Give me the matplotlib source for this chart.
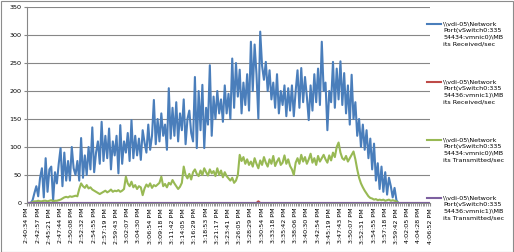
import numpy as np
import matplotlib.pyplot as plt
from matplotlib.lines import Line2D
from matplotlib.patches import Rectangle

# ---------------------- Data ---------------------- #

# category axis labels (one label every 6 samples)
time_labels = ['2:40:34 PM', '2:42:57 PM', '2:45:21 PM', '2:47:44 PM', '2:50:08 PM',
               '2:52:32 PM', '2:54:55 PM', '2:57:19 PM', '2:59:43 PM', '3:02:07 PM',
               '3:04:30 PM', '3:06:54 PM', '3:09:18 PM', '3:11:42 PM', '3:14:05 PM',
               '3:16:29 PM', '3:18:53 PM', '3:21:17 PM', '3:23:41 PM', '3:26:05 PM',
               '3:28:29 PM', '3:30:54 PM', '3:33:18 PM', '3:35:42 PM', '3:38:06 PM',
               '3:40:30 PM', '3:42:54 PM', '3:45:19 PM', '3:47:43 PM', '3:50:07 PM',
               '3:52:31 PM', '3:54:55 PM', '3:57:18 PM', '3:59:42 PM', '4:02:05 PM',
               '4:04:28 PM', '4:06:52 PM']
label_step = 6

series_names = [
    '\\\\vdi-05\\Network\nPort(vSwitch0:335\n54434:vmnic0)\\MB\nits Received/sec',
    '\\\\vdi-05\\Network\nPort(vSwitch0:335\n54436:vmnic1)\\MB\nits Received/sec',
    '\\\\vdi-05\\Network\nPort(vSwitch0:335\n54434:vmnic0)\\MB\nits Transmitted/sec',
    '\\\\vdi-05\\Network\nPort(vSwitch0:335\n54436:vmnic1)\\MB\nits Transmitted/sec',
]
series_colors = ['#4A7EBB', '#BE4B48', '#98B954', '#7D60A0']

# vmnic0 MBits received/sec
rx_nic0 = [0, 0, 0, 5, 18, 30, 12, 45, 62, 10,
           80, 20, 60, 65, 5, 55, 35, 70, 98, 30,
           90, 40, 75, 40, 100, 62, 50, 75, 40, 116,
           45, 85, 50, 100, 60, 135, 55, 90, 110, 70,
           145, 75, 120, 80, 133, 60, 110, 85, 120, 53,
           139, 70, 110, 90, 125, 75, 148, 80, 120, 85,
           115, 77, 130, 108, 90, 140, 95, 120, 184, 105,
           150, 110, 160, 120, 140, 95, 205, 115, 170, 120,
           180, 110, 160, 130, 185, 105, 150, 165, 125, 110,
           225, 98, 200, 130, 211, 98, 170, 140, 246, 120,
           190, 150, 200, 160, 185, 145, 210, 160, 195, 150,
           258, 170, 250, 190, 238, 160, 215, 175, 230, 165,
           288, 200, 283, 230, 151, 306, 245, 220, 252, 200,
           237, 185, 215, 170, 230, 160, 200, 175, 210, 155,
           205, 165, 210, 155, 200, 237, 170, 241, 180, 225,
           190, 148, 210, 165, 230, 180, 240, 175, 288, 200,
           215, 130, 200, 180, 252, 170, 240, 185, 253, 175,
           232, 160, 210, 140, 229, 150, 180, 120, 150, 100,
           140, 95, 130, 80, 115, 60, 106, 40, 71, 25,
           65, 20, 55, 15, 45, 30, 10, 27, 5, 0]

# vmnic1 MBits received/sec (flat, one tiny blip)
rx_nic1 = [0, 0, 0, 0, 0, 0, 0, 0, 0, 0, 0, 0, 0, 0, 0, 0, 0, 0, 0, 0,
           0, 0, 0, 0, 0, 0, 0, 0, 0, 0, 0, 0, 0, 0, 0, 0, 0, 0, 0, 0,
           0, 0, 0, 0, 0, 0, 0, 0, 0, 0, 0, 0, 0, 0, 0, 0, 0, 0, 0, 0,
           0, 0, 0, 0, 0, 0, 0, 0, 0, 0, 0, 0, 0, 0, 0, 0, 0, 0, 0, 0,
           0, 0, 0, 0, 0, 0, 0, 0, 0, 0, 0, 0, 0, 0, 0, 0, 0, 0, 0, 0,
           0, 0, 0, 0, 0, 0, 0, 0, 0, 0, 0, 0, 0, 0, 0, 0, 0, 0, 0, 0,
           0, 0, 0, 0, 3, 0, 0, 0, 0, 0, 0, 0, 0, 0, 0, 0, 0, 0, 0, 0,
           0, 0, 0, 0, 0, 0, 0, 0, 0, 0, 0, 0, 0, 0, 0, 0, 0, 0, 0, 0,
           0, 0, 0, 0, 0, 0, 0, 0, 0, 0, 0, 0, 0, 0, 0, 0, 0, 0, 0, 0,
           0, 0, 0, 0, 0, 0, 0, 0, 0, 0, 0, 0, 0, 0, 0, 0, 0, 0, 0, 0,
           0, 0, 0, 0, 0, 0, 0, 0, 0, 0, 0, 0, 0, 0, 0, 0, 0]

# vmnic0 MBits transmitted/sec
tx_nic0 = [0, 0, 0, 2, 3, 3, 4, 3, 3, 4,
           4, 3, 4, 5, 3, 4, 4, 5, 6, 8,
           10, 11, 10, 12, 11, 12, 13, 12, 25, 35,
           30, 27, 32, 26, 28, 24, 22, 20, 18, 16,
           18, 20, 22, 19, 21, 24, 20, 22, 21, 23,
           20, 22, 25, 47, 35, 30, 38, 28, 32, 25,
           30, 28, 14, 26, 33, 29, 35, 27, 32, 30,
           33, 36, 47, 30, 34, 28, 36, 33, 41, 35,
           30, 25, 29, 36, 65, 50, 44, 52, 42, 55,
           60, 52, 48, 58, 50, 62, 55, 49, 60, 53,
           57, 48, 62, 50, 58, 46, 55, 48, 44, 40,
           45, 36, 40, 50, 86, 75, 82, 70, 78, 68,
           74, 65, 80, 70, 62, 76, 68, 82, 72, 65,
           78, 70, 84, 66, 74, 80, 68, 72, 85, 70,
           78, 66, 60, 50, 72, 80, 70, 86, 74, 82,
           70, 78, 88, 72, 80, 68, 84, 74, 80, 86,
           78, 72, 85, 76, 90, 82, 100, 108, 90, 80,
           77, 84, 74, 80, 86, 92, 78, 60, 45, 35,
           28, 22, 17, 12, 9, 8, 6, 7, 5, 6,
           5, 6, 4, 5, 6, 4, 5, 4, 3, 0]

# vmnic1 MBits transmitted/sec (flat)
tx_nic1 = [0, 0, 0, 0, 0, 0, 0, 0, 0, 0, 0, 0, 0, 0, 0, 0, 0, 0, 0, 0,
           0, 0, 0, 0, 0, 0, 0, 0, 0, 0, 0, 0, 0, 0, 0, 0, 0, 0, 0, 0,
           0, 0, 0, 0, 0, 0, 0, 0, 0, 0, 0, 0, 0, 0, 0, 0, 0, 0, 0, 0,
           0, 0, 0, 0, 0, 0, 0, 0, 0, 0, 0, 0, 0, 0, 0, 0, 0, 0, 0, 0,
           0, 0, 0, 0, 0, 0, 0, 0, 0, 0, 0, 0, 0, 0, 0, 0, 0, 0, 0, 0,
           0, 0, 0, 0, 0, 0, 0, 0, 0, 0, 0, 0, 0, 0, 0, 0, 0, 0, 0, 0,
           0, 0, 0, 0, 0, 0, 0, 0, 0, 0, 0, 0, 0, 0, 0, 0, 0, 0, 0, 0,
           0, 0, 0, 0, 0, 0, 0, 0, 0, 0, 0, 0, 0, 0, 0, 0, 0, 0, 0, 0,
           0, 0, 0, 0, 0, 0, 0, 0, 0, 0, 0, 0, 0, 0, 0, 0, 0, 0, 0, 0,
           0, 0, 0, 0, 0, 0, 0, 0, 0, 0, 0, 0, 0, 0, 0, 0, 0, 0, 0, 0,
           0, 0, 0, 0, 0, 0, 0, 0, 0, 0, 0, 0, 0, 0, 0, 0, 0]

# ---------------------- Plot ---------------------- #

plt.rcParams['font.family'] = 'DejaVu Sans'
fs = 4.6
grid_col = '#878787'

fig = plt.figure(figsize=(5.14, 2.52), dpi=100)
ax = fig.add_axes([27 / 514, 1 - 203 / 252, (430 - 27) / 514, (203 - 7) / 252])

all_series = [rx_nic0, rx_nic1, tx_nic0, tx_nic1]
for vals, col in zip(all_series, series_colors):
    ax.plot(np.arange(len(vals)), vals, color=col, lw=1.5, solid_joinstyle='round')

n_cat = (len(time_labels) - 1) * label_step + 1
ax.set_xlim(0, n_cat - 1)
ax.set_ylim(0, 350)
ax.set_yticks(np.arange(0, 351, 50))
ax.set_xticks(np.arange(0, n_cat, label_step))
ax.set_xticklabels(time_labels, rotation=90, fontsize=fs)
ax.set_xticks(np.arange(0, n_cat), minor=True)
ax.tick_params(axis='y', labelsize=fs, length=2, color=grid_col, pad=2)
ax.tick_params(axis='x', which='both', length=2, color=grid_col, pad=1.5)
ax.yaxis.grid(True, color=grid_col, lw=0.8)
ax.set_axisbelow(True)
for s in ['top', 'right']:
    ax.spines[s].set_visible(False)
for s in ['left', 'bottom']:
    ax.spines[s].set_color(grid_col)
    ax.spines[s].set_linewidth(0.8)

# Excel-style legend: short line next to the first of four wrapped lines
for k, (name, col) in enumerate(zip(series_names, series_colors)):
    yc = 1 - (24 + 58 * k) / 252
    fig.add_artist(Line2D([427 / 514, 441 / 514], [yc, yc], color=col, lw=1.5,
                          transform=fig.transFigure))
    fig.text(443 / 514, yc + 3 / 252, name, fontsize=fs, va='top', ha='left',
             linespacing=1.45)

fig.add_artist(Rectangle((0.5 / 514, 0.5 / 252), 512.5 / 514, 250.5 / 252, fill=False,
                         edgecolor='#8C8C8C', lw=0.8, transform=fig.transFigure))

fig.savefig('out.png', dpi=100)
